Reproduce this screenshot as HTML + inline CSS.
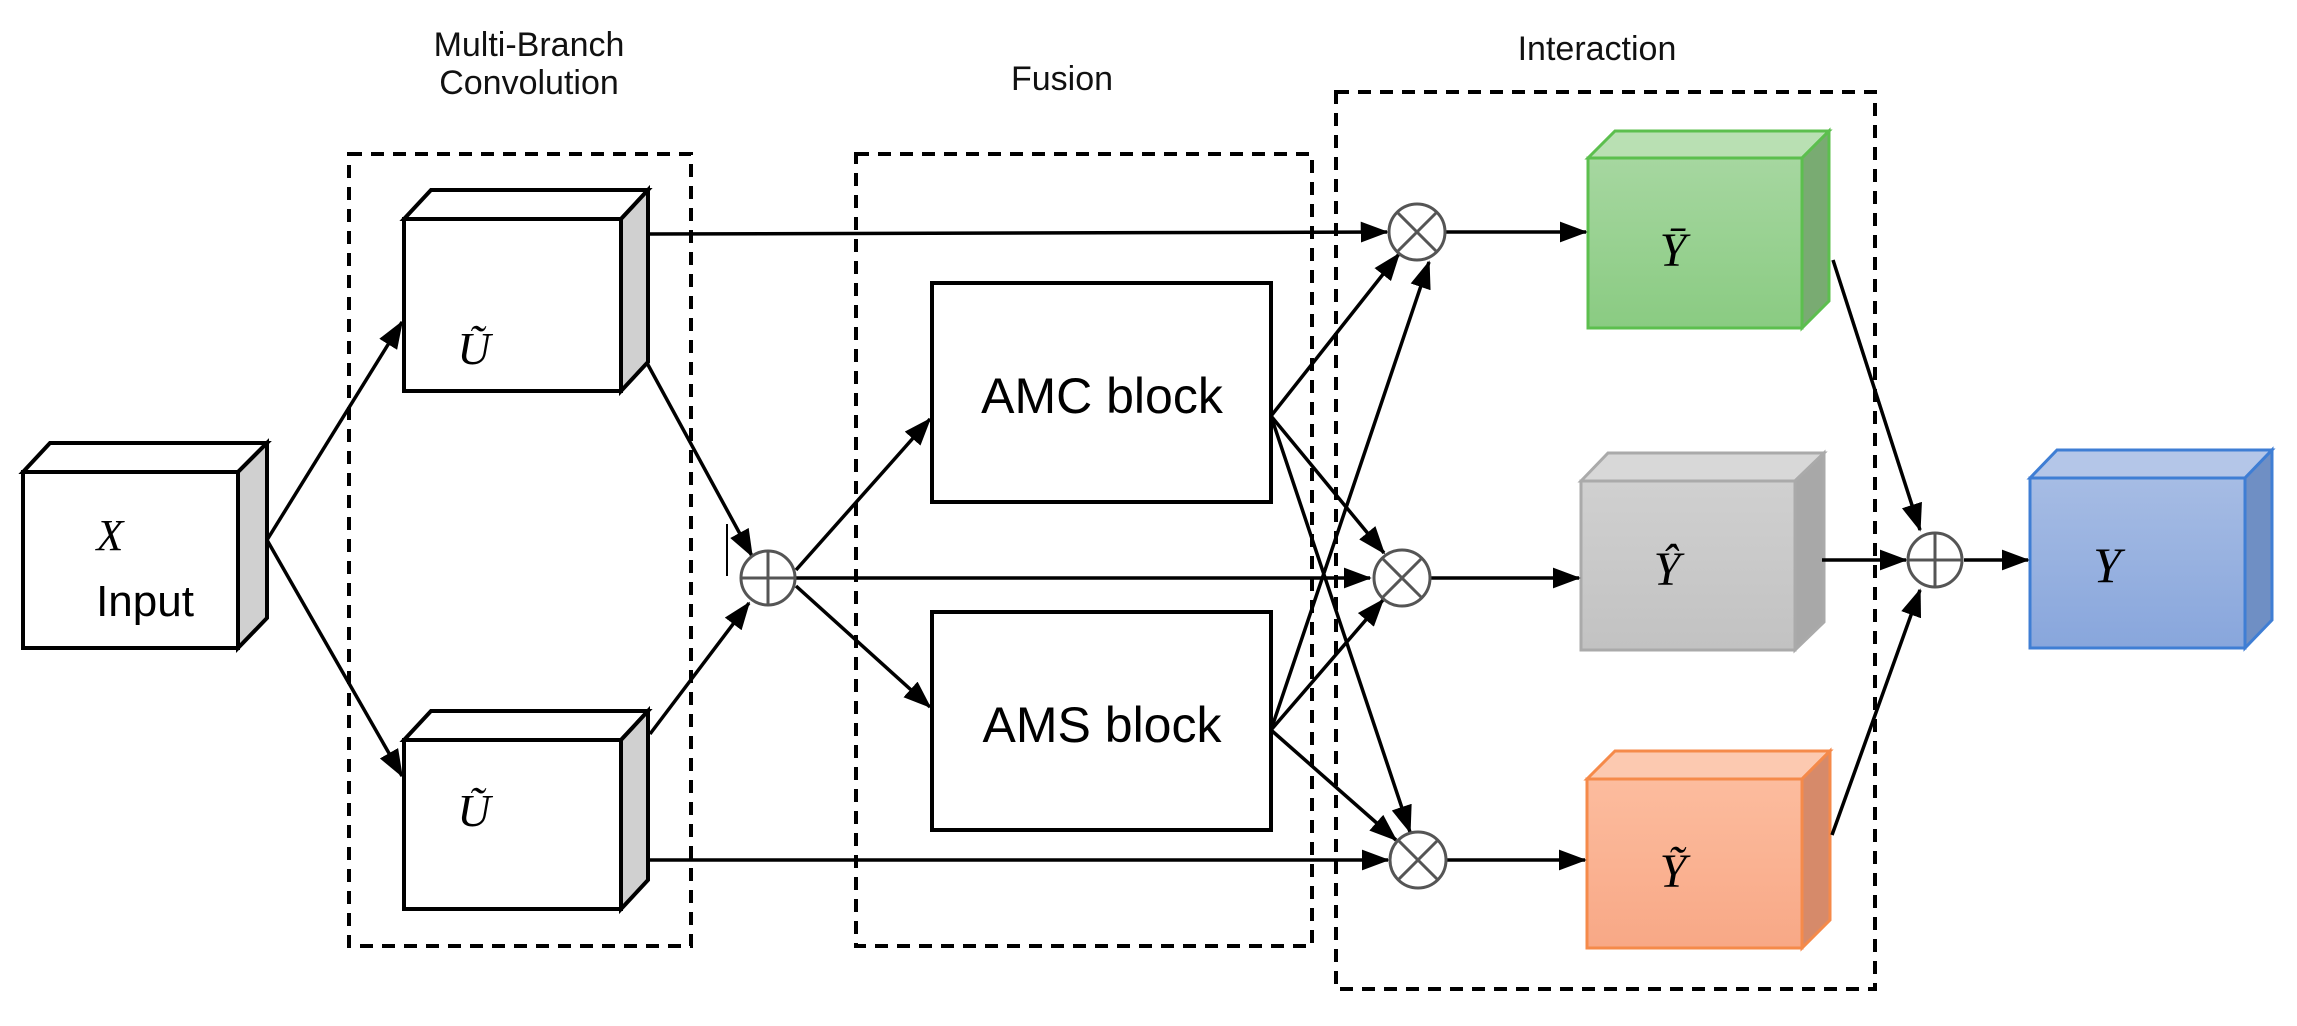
<!DOCTYPE html>
<html><head><meta charset="utf-8"><style>
html,body{margin:0;padding:0;background:#fff;}
svg{display:block;}
text{font-family:"Liberation Sans",sans-serif;}
.m{font-family:"Liberation Serif",serif;font-style:italic;}
</style></head><body>
<svg width="2297" height="1026" viewBox="0 0 2297 1026" xmlns="http://www.w3.org/2000/svg">
<defs>
<marker id="a" markerWidth="8" markerHeight="6" refX="7.5" refY="3" orient="auto" markerUnits="strokeWidth">
<path d="M0,0 L8,3 L0,6 Z" fill="#000"/></marker>
<linearGradient id="gG" x1="0" y1="0" x2="0" y2="1"><stop offset="0" stop-color="#a6d7a0"/><stop offset="1" stop-color="#8acb82"/></linearGradient>
<linearGradient id="gY" x1="0" y1="0" x2="0" y2="1"><stop offset="0" stop-color="#d0d0d0"/><stop offset="1" stop-color="#c2c2c2"/></linearGradient>
<linearGradient id="gO" x1="0" y1="0" x2="0" y2="1"><stop offset="0" stop-color="#fcbc9e"/><stop offset="1" stop-color="#f8a886"/></linearGradient>
<linearGradient id="gB" x1="0" y1="0" x2="0" y2="1"><stop offset="0" stop-color="#a6bce4"/><stop offset="1" stop-color="#88a6dc"/></linearGradient>
</defs>

<!-- titles -->
<g font-size="34" fill="#111" text-anchor="middle">
<text x="529" y="56">Multi-Branch</text>
<text x="529" y="94">Convolution</text>
<text x="1062" y="90">Fusion</text>
<text x="1597" y="60">Interaction</text>
</g>

<!-- dashed boxes -->
<g fill="none" stroke="#000" stroke-width="4" stroke-dasharray="13 9">
<rect x="349" y="154" width="342" height="792"/>
<rect x="856" y="154" width="456" height="792"/>
<rect x="1336" y="92" width="539" height="897"/>
</g>

<!-- Input box -->
<g stroke="#000" stroke-width="4" stroke-linejoin="miter">
<polygon points="23,472 50,443 267,443 238,472" fill="#fff"/>
<polygon points="238,472 267,443 267,618 238,648" fill="#d0d0d0"/>
<rect x="23" y="472" width="215" height="176" fill="#fff"/>
</g>
<text class="m" x="110" y="550" font-size="44" text-anchor="middle">X</text>
<text x="145" y="616" font-size="44" text-anchor="middle">Input</text>

<!-- U boxes -->
<g stroke="#000" stroke-width="4">
<polygon points="404,219 431,190 648,190 621,219" fill="#fff"/>
<polygon points="621,219 648,190 648,362 621,391" fill="#d0d0d0"/>
<rect x="404" y="219" width="217" height="172" fill="#fff"/>
<polygon points="404,740 431,711 648,711 621,740" fill="#fff"/>
<polygon points="621,740 648,711 648,880 621,909" fill="#d0d0d0"/>
<rect x="404" y="740" width="217" height="169" fill="#fff"/>
</g>
<text class="m" x="474" y="364" font-size="46" text-anchor="middle">Ũ</text>
<text class="m" x="474" y="826" font-size="46" text-anchor="middle">Ũ</text>

<!-- AMC/AMS -->
<g stroke="#000" stroke-width="4" fill="#fff">
<rect x="932" y="283" width="339" height="219"/>
<rect x="932" y="612" width="339" height="218"/>
</g>
<text x="1102" y="413" font-size="50" text-anchor="middle">AMC block</text>
<text x="1102" y="742" font-size="50" text-anchor="middle">AMS block</text>

<!-- colored boxes -->
<g stroke-width="3">
<polygon points="1588,158 1615,131 1829,131 1802,158" fill="#b9e0b3" stroke="#5cbf4e"/>
<polygon points="1802,158 1829,131 1829,301 1802,328" fill="#79ab72" stroke="#5cbf4e"/>
<rect x="1588" y="158" width="214" height="170" fill="url(#gG)" stroke="#5cbf4e"/>

<polygon points="1581,481 1608,453 1824,453 1795,481" fill="#d8d8d8" stroke="#aaa"/>
<polygon points="1795,481 1824,453 1824,622 1795,650" fill="#a8a8a8" stroke="#aaa"/>
<rect x="1581" y="481" width="214" height="169" fill="url(#gY)" stroke="#aaa"/>

<polygon points="1587,779 1615,751 1830,751 1802,779" fill="#fcc9b0" stroke="#f58a4a"/>
<polygon points="1802,779 1830,751 1830,920 1802,948" fill="#d68a6a" stroke="#f58a4a"/>
<rect x="1587" y="779" width="215" height="169" fill="url(#gO)" stroke="#f58a4a"/>

<polygon points="2030,478 2057,450 2272,450 2245,478" fill="#b4c6e8" stroke="#3f7ed4"/>
<polygon points="2245,478 2272,450 2272,620 2245,648" fill="#6f8fc4" stroke="#3f7ed4"/>
<rect x="2030" y="478" width="215" height="170" fill="url(#gB)" stroke="#3f7ed4"/>
</g>
<g text-anchor="middle" fill="#000">
<text class="m" x="1673" y="266" font-size="48">Ȳ</text>
<text class="m" x="1667" y="585" font-size="48">Ŷ</text>
<text class="m" x="1673" y="887" font-size="48">Ỹ</text>
<text class="m" x="2107" y="582" font-size="50">Y</text>
</g>

<!-- connectors -->
<g stroke="#000" stroke-width="3.5" fill="none" marker-end="url(#a)">
<line x1="267" y1="540" x2="402" y2="322"/>
<line x1="267" y1="540" x2="402" y2="776"/>
<line x1="647" y1="363" x2="752" y2="556"/>
<line x1="650" y1="734" x2="749" y2="603"/>
<line x1="796" y1="570" x2="930" y2="419"/>
<line x1="796" y1="586" x2="930" y2="707"/>
<line x1="648" y1="234" x2="1387" y2="232"/>
<line x1="796" y1="578" x2="1370" y2="578"/>
<line x1="648" y1="860" x2="1388" y2="860"/>
<line x1="1271" y1="416" x2="1399" y2="254"/>
<line x1="1271" y1="416" x2="1384" y2="553"/>
<line x1="1271" y1="416" x2="1410" y2="832"/>
<line x1="1271" y1="730" x2="1429" y2="262"/>
<line x1="1271" y1="730" x2="1383" y2="600"/>
<line x1="1271" y1="730" x2="1396" y2="840"/>
<line x1="1446" y1="232" x2="1586" y2="232"/>
<line x1="1430" y1="578" x2="1579" y2="578"/>
<line x1="1447" y1="860" x2="1585" y2="860"/>
<line x1="1833" y1="260" x2="1920" y2="530"/>
<line x1="1822" y1="560" x2="1906" y2="560"/>
<line x1="1832" y1="835" x2="1920" y2="590"/>
<line x1="1964" y1="560" x2="2028" y2="560"/>
</g>
<line x1="727" y1="524" x2="727" y2="576" stroke="#000" stroke-width="2"/>

<!-- operator circles -->
<g stroke="#555" stroke-width="3" fill="#fff">
<circle cx="768" cy="578" r="27"/>
<line x1="741" y1="578" x2="795" y2="578"/><line x1="768" y1="551" x2="768" y2="605"/>
<circle cx="1935" cy="560" r="27"/>
<line x1="1908" y1="560" x2="1962" y2="560"/><line x1="1935" y1="533" x2="1935" y2="587"/>
<circle cx="1417" cy="232" r="28"/>
<line x1="1397" y1="212" x2="1437" y2="252"/><line x1="1437" y1="212" x2="1397" y2="252"/>
<circle cx="1402" cy="578" r="28"/>
<line x1="1382" y1="558" x2="1422" y2="598"/><line x1="1422" y1="558" x2="1382" y2="598"/>
<circle cx="1418" cy="860" r="28"/>
<line x1="1398" y1="840" x2="1438" y2="880"/><line x1="1438" y1="840" x2="1398" y2="880"/>
</g>
</svg>
</body></html>
